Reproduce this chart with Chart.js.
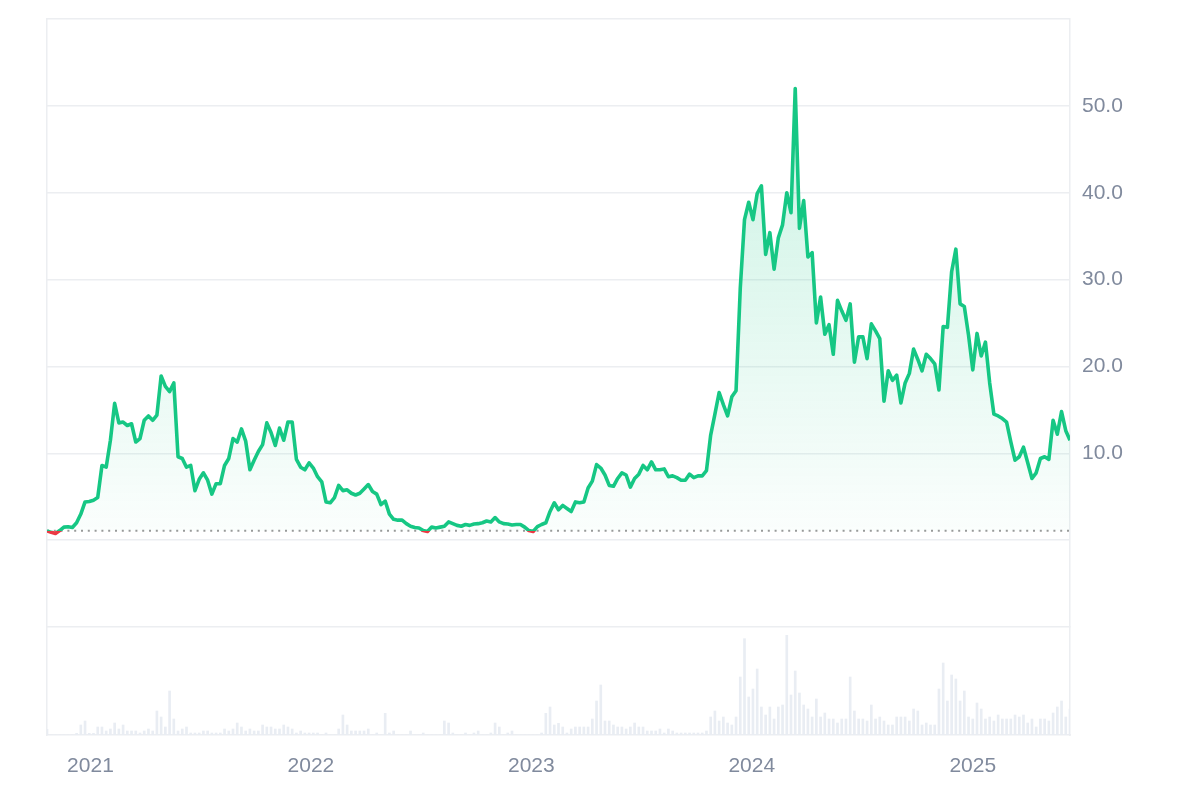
<!DOCTYPE html>
<html>
<head>
<meta charset="utf-8">
<script src="https://cdn.jsdelivr.net/npm/chart.js@4.4.1/dist/chart.umd.min.js"></script>
<style>
  html, body { margin: 0; padding: 0; background: #ffffff; }
  #wrap { width: 1200px; height: 800px; }
</style>
</head>
<body>
<div id="wrap"><canvas id="c" width="1200" height="800"></canvas></div>
<script>
// ---- data (weekly samples) ----
const startDate = '2020-10-21';
const yearTicks = [2021, 2022, 2023, 2024, 2025];
const priceTicks = [10, 20, 30, 40, 50];

const prices = [
  1.07, 0.9, 0.77, 1.1, 1.5, 1.55, 1.46, 2.0, 3.0, 4.4,
  4.45, 4.6, 4.9, 8.6, 8.4, 11.5, 15.75, 13.5, 13.6, 13.2,
  13.4, 11.3, 11.7, 13.8, 14.3, 13.8, 14.4, 18.9, 17.7, 17.1,
  18.1, 9.6, 9.4, 8.4, 8.6, 5.7, 7.0, 7.75, 6.9, 5.3,
  6.5, 6.5, 8.6, 9.4, 11.7, 11.3, 12.8, 11.4, 8.1, 9.2,
  10.2, 11.0, 13.5, 12.4, 10.9, 12.9, 11.5, 13.6, 13.6, 9.3,
  8.4, 8.1, 8.9, 8.3, 7.3, 6.7, 4.4, 4.3, 4.9, 6.3,
  5.7, 5.8, 5.4, 5.2, 5.4, 5.9, 6.4, 5.6, 5.3, 4.1,
  4.5, 3.0, 2.4, 2.3, 2.3, 1.9, 1.6, 1.45, 1.4, 1.1,
  1.0, 1.5, 1.4, 1.5, 1.6, 2.1, 1.9, 1.7, 1.6, 1.8,
  1.7, 1.85, 1.9, 2.0, 2.2, 2.1, 2.6, 2.1, 1.9, 1.85,
  1.75, 1.8, 1.8, 1.5, 1.1, 1.0, 1.55, 1.8, 2.0, 3.3,
  4.3, 3.5, 4.0, 3.65, 3.3, 4.4, 4.3, 4.4, 6.0, 6.8,
  8.7, 8.3, 7.5, 6.3, 6.2, 7.1, 7.75, 7.5, 6.1, 7.1,
  7.6, 8.6, 8.1, 9.0, 8.1, 8.1, 8.2, 7.3, 7.4, 7.2,
  6.9, 6.9, 7.6, 7.2, 7.4, 7.4, 8.0, 12.1, 14.5, 17.0,
  15.6, 14.3, 16.5, 17.2, 29.0, 36.9, 38.9, 36.9, 39.9, 40.8,
  32.9, 35.4, 31.2, 34.8, 36.3, 40.0, 37.7, 52.0, 35.9, 39.1,
  32.6, 33.1, 25.0, 28.0, 23.7, 24.8, 21.4, 27.6, 26.4, 25.3,
  27.2, 20.5, 23.4, 23.4, 20.9, 24.9, 24.1, 23.2, 16.0, 19.5,
  18.4, 19.0, 15.8, 18.1, 19.2, 22.0, 20.8, 19.5, 21.4, 20.9,
  20.3, 17.3, 24.6, 24.5, 30.9, 33.5, 27.2, 26.9, 23.6, 19.6,
  23.8, 21.2, 22.8, 18.1, 14.5, 14.3, 14.0, 13.6, 11.3, 9.2,
  9.6, 10.7, 8.9, 7.1, 7.75, 9.4, 9.6, 9.3, 13.8, 12.2,
  14.8, 12.6, 11.5
];

const volumes = [
  17, 0, 0, 0, 0, 0, 0, 5, 30, 42,
  5, 5, 24, 24, 12, 18, 36, 18, 30, 12,
  12, 12, 6, 12, 18, 12, 72, 54, 24, 132,
  48, 12, 18, 24, 6, 6, 6, 12, 12, 6,
  6, 6, 18, 12, 18, 36, 24, 12, 18, 12,
  12, 30, 24, 24, 18, 18, 30, 24, 18, 6,
  12, 6, 6, 6, 6, 0, 6, 0, 0, 18,
  60, 30, 12, 12, 12, 12, 18, 0, 6, 0,
  65, 6, 12, 0, 0, 0, 12, 0, 0, 6,
  0, 0, 0, 0, 42, 36, 6, 0, 0, 6,
  0, 6, 12, 0, 0, 6, 36, 24, 0, 6,
  12, 0, 0, 0, 0, 0, 0, 6, 65, 84,
  30, 35, 24, 6, 18, 24, 24, 24, 24, 48,
  102, 150, 42, 42, 30, 24, 24, 18, 24, 36,
  24, 24, 12, 12, 12, 18, 6, 18, 12, 6,
  6, 6, 6, 6, 6, 6, 12, 54, 72, 42,
  54, 36, 30, 54, 174, 289, 114, 138, 198, 84,
  60, 84, 48, 84, 90, 299, 120, 192, 126, 90,
  78, 54, 108, 54, 66, 48, 48, 36, 48, 48,
  174, 72, 48, 48, 42, 90, 48, 54, 42, 30,
  30, 54, 54, 54, 42, 78, 72, 30, 36, 30,
  30, 138, 216, 102, 180, 168, 102, 132, 54, 48,
  96, 78, 48, 54, 42, 60, 48, 48, 48, 60,
  54, 60, 36, 48, 24, 48, 48, 42, 66, 84,
  102, 54, 78
];

// ---- styling ----
const GREEN = '#16c784';
const RED = '#ea3943';
const GRID = '#eceef1';
const TEXT = '#808a9d';
const FONT = { family: '"Liberation Sans", Arial, Helvetica, sans-serif', size: 21 };

const DAY = 86400000;
const t0 = Date.parse(startDate + 'T00:00:00Z');
const weekDates = prices.map((_, i) => t0 + i * 7 * DAY);
const basePrice = prices[0];

function baseStop(chart) {
  const a = chart.chartArea;
  const py = chart.scales.y.getPixelForValue(basePrice);
  return Math.min(Math.max((py - a.top) / (a.bottom - a.top), 0), 1);
}

function lineColor(ctx) {
  const chart = ctx.chart;
  if (!chart.chartArea || !chart.scales.y) return GREEN;
  const a = chart.chartArea;
  const s = baseStop(chart);
  const g = chart.ctx.createLinearGradient(0, a.top, 0, a.bottom);
  g.addColorStop(0, GREEN);
  g.addColorStop(s, GREEN);
  g.addColorStop(s, RED);
  g.addColorStop(1, RED);
  return g;
}

function fillColor(ctx) {
  const chart = ctx.chart;
  if (!chart.chartArea || !chart.scales.y) return 'rgba(22,199,132,0.1)';
  const a = chart.chartArea;
  const s = baseStop(chart);
  const g = chart.ctx.createLinearGradient(0, a.top, 0, a.bottom);
  g.addColorStop(0, 'rgba(22,199,132,0.26)');
  g.addColorStop(s, 'rgba(22,199,132,0.02)');
  g.addColorStop(s, 'rgba(234,57,67,0.06)');
  g.addColorStop(1, 'rgba(234,57,67,0.06)');
  return g;
}

function noLabelPadding(axis) {
  axis.paddingTop = 0;
  axis.paddingBottom = 0;
}

const chart = new Chart(document.getElementById('c'), {
  type: 'line',
  data: {
    datasets: [
      {
        type: 'line',
        label: 'Price',
        data: prices.map((v, i) => ({ x: weekDates[i], y: v })),
        yAxisID: 'y',
        borderColor: lineColor,
        backgroundColor: fillColor,
        fill: { target: { value: basePrice } },
        borderWidth: 3.6,
        borderJoinStyle: 'round',
        pointRadius: 0,
        tension: 0,
        order: 0
      },
      {
        type: 'line',
        label: 'Base',
        data: [{ x: weekDates[0], y: basePrice }, { x: weekDates[weekDates.length - 1], y: basePrice }],
        yAxisID: 'y',
        borderColor: '#9a9a9a',
        borderWidth: 2,
        borderDash: [2, 4.8],
        pointRadius: 0,
        fill: false,
        order: 1
      },
      {
        type: 'bar',
        label: 'Volume',
        data: volumes.map((v, i) => ({ x: weekDates[i], y: v })),
        yAxisID: 'y2',
        backgroundColor: '#e9edf3',
        barThickness: 2,
        order: 2
      }
    ]
  },
  options: {
    responsive: false,
    animation: false,
    layout: { padding: { top: 19, left: 0, right: 0, bottom: 0 } },
    plugins: { legend: { display: false }, tooltip: { enabled: false } },
    scales: {
      x: {
        type: 'linear',
        offset: false,
        bounds: 'data',
        min: weekDates[0],
        max: weekDates[weekDates.length - 1],
        afterBuildTicks: (axis) => {
          axis.ticks = yearTicks.map(y => ({ value: Date.UTC(y, 0, 1) }));
        },
        ticks: {
          callback: (v) => String(new Date(v).getUTCFullYear()),
          color: TEXT, font: FONT, padding: 19, maxRotation: 0, autoSkip: false
        },
        grid: { display: false, drawTicks: false, offset: false },
        border: { display: true, color: GRID, width: 1.5 },
        afterFit: (axis) => { axis.height = 65; axis.paddingLeft = 0; axis.paddingRight = 0; }
      },
      y: {
        type: 'linear',
        position: 'right',
        stack: 'main',
        stackWeight: 608,
        min: -10,
        max: 60,
        ticks: {
          stepSize: 10,
          callback: (v) => priceTicks.includes(v) ? v.toFixed(1) : '',
          color: TEXT, font: FONT, padding: 12
        },
        grid: { color: GRID, lineWidth: 1.5, drawTicks: false },
        border: { display: true, color: GRID, width: 1.5 },
        afterFit: (axis) => { axis.width = 130; noLabelPadding(axis); }
      },
      y2: {
        type: 'linear',
        position: 'right',
        stack: 'main',
        stackWeight: 108,
        min: 0,
        max: 324,
        ticks: { display: false },
        grid: { display: false, drawTicks: false },
        border: { display: true, color: GRID, width: 1.5 },
        afterFit: (axis) => { axis.width = 130; noLabelPadding(axis); }
      },
      yl: {
        type: 'linear',
        position: 'left',
        min: 0,
        max: 1,
        ticks: { display: false },
        grid: { display: false, drawTicks: false },
        border: { display: true, color: GRID, width: 1.5 },
        afterFit: (axis) => { axis.width = 47; noLabelPadding(axis); }
      }
    }
  }
});
</script>
</body>
</html>
